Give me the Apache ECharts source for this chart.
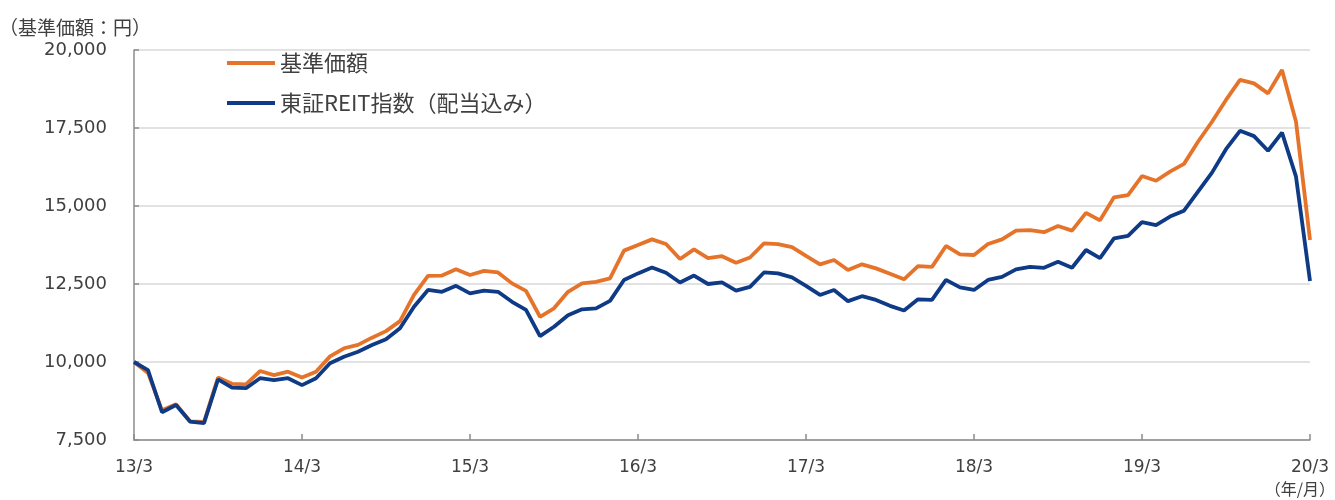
<!DOCTYPE html>
<html>
<head>
<meta charset="utf-8">
<script src="https://cdn.jsdelivr.net/npm/echarts@6/dist/echarts.min.js"></script>
<style>
  html, body { margin: 0; padding: 0; background: #fff; }
  #chart { width: 1335px; height: 500px; }
</style>
</head>
<body>
<div id="chart"></div>
<script>
// 月次データ 2013/3 〜 2020/3
const startYear = 13;
const startMonth = 3;
const monthCount = 85;

// 基準価額（円）
const fundValues = [
  10000, 9650, 8450, 8650, 8100, 8080, 9500, 9300, 9280, 9710, 9580, 9690,
  9500, 9690, 10180, 10440, 10550, 10780, 10990, 11310, 12150, 12760, 12770, 12970,
  12790, 12920, 12870, 12520, 12280, 11450, 11720, 12250, 12520, 12570, 12680, 13570,
  13750, 13930, 13780, 13300, 13610, 13330, 13390, 13180, 13350, 13800, 13780, 13680,
  13400, 13130, 13270, 12950, 13130, 13000, 12830, 12650, 13070, 13050, 13720, 13450,
  13430, 13780, 13930, 14210, 14230, 14160, 14360, 14210, 14780, 14540, 15280, 15350,
  15960, 15810, 16100, 16350, 17060, 17700, 18400, 19040, 18930, 18610, 19360, 17700,
  13910
];

// 東証REIT指数（配当込み）
const reitValues = [
  10000, 9740, 8390, 8620, 8090, 8040, 9440, 9180, 9160, 9480, 9420, 9480,
  9260, 9480, 9960, 10170, 10330, 10545, 10730, 11080, 11770, 12310, 12250, 12440,
  12200, 12290, 12250, 11930, 11670, 10830, 11130, 11500, 11690, 11720, 11960, 12630,
  12840, 13030, 12860, 12550, 12770, 12500, 12550, 12290, 12410, 12870, 12840, 12710,
  12440, 12150, 12310, 11950, 12110, 11990, 11800, 11650, 12010, 11990, 12630, 12390,
  12310, 12630, 12730, 12970, 13050, 13020, 13210, 13020, 13590, 13330, 13960, 14040,
  14480, 14390, 14660, 14850, 15460, 16070, 16820, 17410, 17240, 16770, 17350, 15940,
  12600
];

const yTicks = [7500, 10000, 12500, 15000, 17500, 20000];

// カテゴリ（年/月）
const categories = [];
for (let i = 0; i < monthCount; i++) {
  const m = (startMonth - 1 + i) % 12 + 1;
  const y = startYear + Math.floor((startMonth - 1 + i) / 12);
  categories.push(y + '/' + m);
}

const textColor = '#404040';
const numFont = '"DejaVu Sans", "Noto Sans CJK JP", sans-serif';
const jpFont = '"Noto Sans CJK JP", "DejaVu Sans", sans-serif';

const chart = echarts.init(document.getElementById('chart'));
chart.setOption({
  animation: false,
  backgroundColor: '#fff',
  title: {
    text: '（基準価額：円）',
    left: -6,
    top: 13,
    textStyle: { fontFamily: jpFont, fontSize: 19, fontWeight: 'normal', color: textColor }
  },
  legend: {
    orient: 'vertical',
    left: 222,
    top: 47,
    itemWidth: 48,
    itemHeight: 4,
    itemGap: 18,
    icon: 'rect',
    textStyle: { fontFamily: jpFont, fontSize: 22, color: textColor },
    data: ['基準価額', '東証REIT指数（配当込み）']
  },
  graphic: [{
    type: 'text',
    right: 0,
    top: 481,
    style: { text: '（年/月）', fontFamily: jpFont, fontSize: 16, fill: textColor }
  }],
  grid: { left: 134, right: 25, top: 50, bottom: 60, containLabel: false },
  xAxis: {
    type: 'category',
    boundaryGap: false,
    data: categories,
    axisLine: { lineStyle: { color: '#8c8c8c', width: 1.5 } },
    axisTick: { inside: true, length: 6, interval: 11, lineStyle: { color: '#8c8c8c', width: 1.5 } },
    axisLabel: {
      interval: 11,
      margin: 19,
      fontFamily: numFont,
      fontSize: 17,
      color: textColor
    },
    splitLine: { show: false }
  },
  yAxis: {
    type: 'value',
    min: yTicks[0],
    max: yTicks[yTicks.length - 1],
    interval: 2500,
    axisLine: { show: true, lineStyle: { color: '#8c8c8c', width: 1.5 } },
    axisTick: { show: true, inside: true, length: 5, lineStyle: { color: '#8c8c8c', width: 1.5 } },
    axisLabel: {
      margin: 27,
      fontFamily: numFont,
      fontSize: 18,
      color: textColor,
      formatter: v => v.toLocaleString('en-US')
    },
    splitLine: { lineStyle: { color: '#d9d9d9', width: 1.5 } }
  },
  series: [
    {
      name: '基準価額',
      type: 'line',
      data: fundValues,
      symbol: 'none',
      z: 2,
      lineStyle: { color: '#E5742A', width: 3.8 },
      itemStyle: { color: '#E5742A' }
    },
    {
      name: '東証REIT指数（配当込み）',
      type: 'line',
      data: reitValues,
      symbol: 'none',
      z: 3,
      lineStyle: { color: '#0E3A86', width: 3.8 },
      itemStyle: { color: '#0E3A86' }
    }
  ]
});
</script>
</body>
</html>
